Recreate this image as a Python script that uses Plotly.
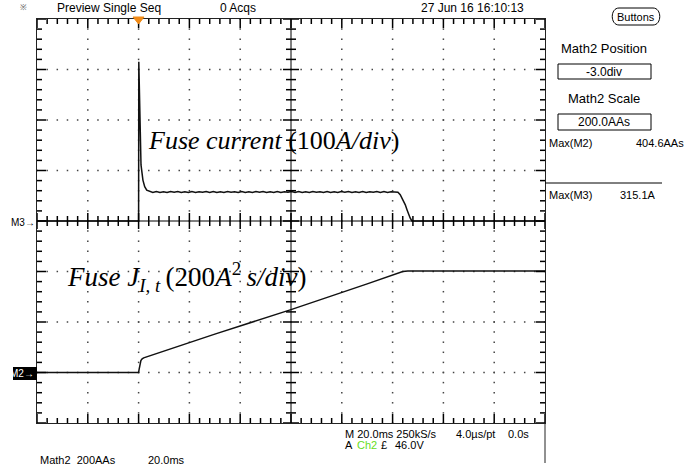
import plotly.graph_objects as go

# ---------------- data ----------------
# Oscilloscope settings
time_per_div_ms = 20.0      # M 20.0ms
trigger_div = 2.0           # trigger position (div from left)
m3_scale_A = 100.0          # fuse current, A/div
m2_scale_A2s = 200.0        # fuse I^2t, A^2 s/div
m2_position_div = -3.0      # Math2 Position

# Fuse current (Math3), time in ms relative to trigger, current in A
cur_t = [-40, 0, 0.08, 0.3, 0.5, 0.6, 0.95, 1.7, 2.4, 3.2, 4.2]
cur_a = [0, 0, 315.1, 250, 216, 146, 111, 81, 68, 61, 58.5]
plateau_t = [5.6, 7.0, 8.4, 9.8, 11.2, 12.6, 14.0, 15.4, 16.8, 18.2, 19.6, 21.0,
             22.4, 23.8, 25.2, 26.6, 28.0, 29.4, 30.8, 32.2, 33.6, 35.0, 36.4,
             37.8, 39.2, 40.6, 42.0, 43.4, 44.8, 46.2, 47.6, 49.0, 50.4, 51.8,
             53.2, 54.6, 56.0, 57.4, 58.8, 60.2, 61.6, 63.0, 64.4, 65.8, 67.2,
             68.6, 70.0, 71.4, 72.8, 74.2, 75.6, 77.0, 78.4, 79.8, 81.2, 82.6,
             84.0, 85.4, 86.8, 88.2, 89.6, 91.0, 92.4, 93.8, 95.2, 96.6, 98.0,
             99.4, 100.8]
plateau_a = [56.5, 58.5, 56.5, 58, 56.5, 58.5, 57, 58.5, 56.5, 58, 56.5, 58.5,
             56.5, 58, 57, 58.5, 56.5, 58.5, 56.5, 58, 56.5, 58.5, 57, 58,
             56.5, 58.5, 56.5, 58, 56.5, 58.5, 57, 58.5, 56.5, 58, 56.5, 58.5,
             56.5, 58, 57, 58.5, 56.5, 58.5, 56.5, 58, 56.5, 58.5, 57, 58,
             56.5, 58.5, 56.5, 58, 56.5, 58.5, 57, 58.5, 56.5, 58, 56.5, 58.5,
             56.5, 58, 57, 58.5, 56.5, 58.5, 56.5, 58, 57]
fall_t = [102.1, 103.0, 104.1, 105.0, 105.7, 106.4, 106.9, 107.6, 160]
fall_a = [57, 52, 42, 32, 22, 12, 6, 0, 0]

# Fuse I^2t integral (Math2), A^2 s
jt_t = [-40, 0, 0.2, 0.5, 0.9, 1.4, 2.0, 30, 60, 90, 102, 104, 106, 160]
jt_v = [0, 0, 12, 35, 47, 54, 58, 152, 249, 351, 394, 400, 402, 402]

# ---------------- geometry helpers ----------------
W, H = 688, 468
L, R, T, B = 37, 545, 19, 423
PX_PER_DIV_X = (R - L) / 10.0
PX_PER_DIV_Y = (B - T) / 8.0


def px(x):
    return (x - L) / (R - L)


def py(y):
    return (B - y) / (B - T)


def tdiv(t):
    return t / time_per_div_ms + trigger_div


all_ct = cur_t + plateau_t + fall_t
all_ca = cur_a + plateau_a + fall_a

fig = go.Figure()

# dotted graticule
gx, gy = [], []
for i in range(1, 10):
    if i == 5:
        continue
    for k in range(0, 41):
        gx.append(i)
        gy.append(-4 + k * 0.2)
for j in range(-3, 4):
    if j == 0:
        continue
    for k in range(0, 51):
        gx.append(k * 0.2)
        gy.append(j)
fig.add_trace(go.Scatter(x=gx, y=gy, mode="markers", hoverinfo="skip",
                         marker=dict(symbol="square", size=1.5, color="#444",
                                     line=dict(width=0)),
                         showlegend=False))

fig.add_trace(go.Scatter(x=[tdiv(t) for t in all_ct],
                         y=[a / m3_scale_A for a in all_ca],
                         mode="lines", line=dict(color="#111", width=1.5),
                         hoverinfo="skip", showlegend=False))
fig.add_trace(go.Scatter(x=[tdiv(t) for t in jt_t],
                         y=[v / m2_scale_A2s + m2_position_div for v in jt_v],
                         mode="lines", line=dict(color="#111", width=1.5),
                         hoverinfo="skip", showlegend=False))

# tick marks (frame edges + centre crosshair) as layout shapes
MAJ, MIN = 9, 5
CMAJ, CMIN = 8, 5
tick_shapes = []


def seg(x0, y0, x1, y1, w=1.5):
    tick_shapes.append(dict(type="line", xref="x", yref="y",
                            x0=x0, y0=y0, x1=x1, y1=y1, layer="above",
                            line=dict(color="#000", width=w)))


for k in range(0, 51):
    x = k * 0.2
    major = (k % 5 == 0)
    ln = (MAJ if major else MIN) / PX_PER_DIV_Y
    cl = (CMAJ if major else CMIN) / PX_PER_DIV_Y
    seg(x, -4, x, -4 + ln)
    seg(x, 4, x, 4 - ln)
    seg(x, -cl, x, cl)
for k in range(0, 41):
    y = -4 + k * 0.2
    major = (k % 5 == 0)
    ln = (MAJ if major else MIN) / PX_PER_DIV_X
    cl = (CMAJ if major else CMIN) / PX_PER_DIV_X
    seg(0, y, ln, y)
    seg(10, y, 10 - ln, y)
    seg(5 - cl, y, 5 + cl, y)
seg(0, 0, 10, 0, 1)
seg(5, -4, 5, 4, 1)

frame_axis = dict(showgrid=False, zeroline=False, showline=True,
                  linecolor="#222", linewidth=1, mirror=True,
                  ticks="", showticklabels=False, fixedrange=True)

fig.update_layout(
    width=W, height=H,
    margin=dict(l=L, r=W - R, t=T, b=H - B, pad=0),
    paper_bgcolor="white", plot_bgcolor="white",
    xaxis=dict(range=[0, 10], **frame_axis),
    yaxis=dict(range=[-4, 4], **frame_axis),
    showlegend=False,
    shapes=tick_shapes,
)

ui = "Liberation Sans, Arial, sans-serif"
serif = "Liberation Serif, Times New Roman, serif"


def txt(x, y, s, size=11, anchor="left", color="black", family=ui):
    fig.add_annotation(x=px(x), y=py(y), xref="paper", yref="paper",
                       text=s, showarrow=False, xanchor=anchor,
                       yanchor="middle",
                       font=dict(family=family, size=size, color=color))


# top bar
txt(18, 8, "※", size=8, color="#555")
txt(55, 8, "Preview Single Seq", size=12)
txt(218, 8, "0 Acqs", size=12)
txt(419, 8, "27 Jun 16 16:10:13", size=12)
txt(636, 17, "Buttons", size=11, anchor="center")

# right panel
txt(604, 49, "Math2 Position", size=13, anchor="center")
txt(604, 72, "-3.0div", size=12, anchor="center")
txt(604, 99, "Math2 Scale", size=13, anchor="center")
txt(604, 122, "200.0AAs", size=12, anchor="center")
txt(547, 143, "Max(M2)", size=11)
txt(686, 143, "404.6AAs", size=11, anchor="right")
txt(547, 195, "Max(M3)", size=11)
txt(618, 195, "315.1A", size=11)

# bottom
txt(343, 434, "M 20.0ms 250kS/s", size=11)
txt(454, 434, "4.0µs/pt", size=11)
txt(506, 434, "0.0s", size=11)
txt(343, 445, "A", size=11)
txt(355, 445, "Ch2", size=11, color="#66dd22")
txt(379, 445, "£", size=11)
txt(393, 445, "46.0V", size=11)
txt(38, 460, "Math2  200AAs", size=11)
txt(146, 460, "20.0ms", size=11)

# channel markers
txt(37, 222, "M3→", size=10, anchor="right")
fig.add_shape(type="rect", xref="paper", yref="paper",
              x0=px(13), x1=px(37), y0=py(380), y1=py(367),
              fillcolor="black", line=dict(width=0))
txt(36, 373.5, "M2→", size=10, anchor="right", color="white")

# big labels
txt(146, 140, "<i>Fuse current</i> (100<i>A/div</i>)", size=26, family=serif)
txt(65, 277,
    "<i>Fuse J<sub>I, t</sub></i>\u2009(200<i>A</i><sup>2</sup>\u2009<i>s/div</i>)",
    size=27, family=serif)

# shapes: trigger marker, boxes, lines
fig.add_shape(type="path", xref="paper", yref="paper",
              path=f"M {px(133)},{py(17)} L {px(144)},{py(17)} L {px(138.6)},{py(24)} Z",
              fillcolor="#f08a16", line=dict(color="#f08a16", width=1))
for y0, y1 in [(64, 79), (114, 130)]:
    fig.add_shape(type="rect", xref="paper", yref="paper",
                  x0=px(558), x1=px(651), y0=py(y1), y1=py(y0),
                  line=dict(color="black", width=1))
fig.add_shape(type="line", xref="paper", yref="paper",
              x0=px(545), x1=px(662), y0=py(183), y1=py(183),
              line=dict(color="black", width=1))
fig.add_shape(type="line", xref="paper", yref="paper",
              x0=px(545), x1=px(545), y0=py(423), y1=py(463),
              line=dict(color="#222", width=1))
bp = (f"M {px(619)},{py(8)} L {px(653)},{py(8)} "
      f"C {px(662)},{py(8)} {px(662)},{py(25)} {px(653)},{py(25)} "
      f"L {px(619)},{py(25)} "
      f"C {px(610)},{py(25)} {px(610)},{py(8)} {px(619)},{py(8)} Z")
fig.add_shape(type="path", xref="paper", yref="paper", path=bp,
              line=dict(color="black", width=1))

fig.write_html("out.html",
               config={"displayModeBar": False},
               post_script="document.body.style.margin='0';"
                           "document.body.style.overflow='hidden';")
